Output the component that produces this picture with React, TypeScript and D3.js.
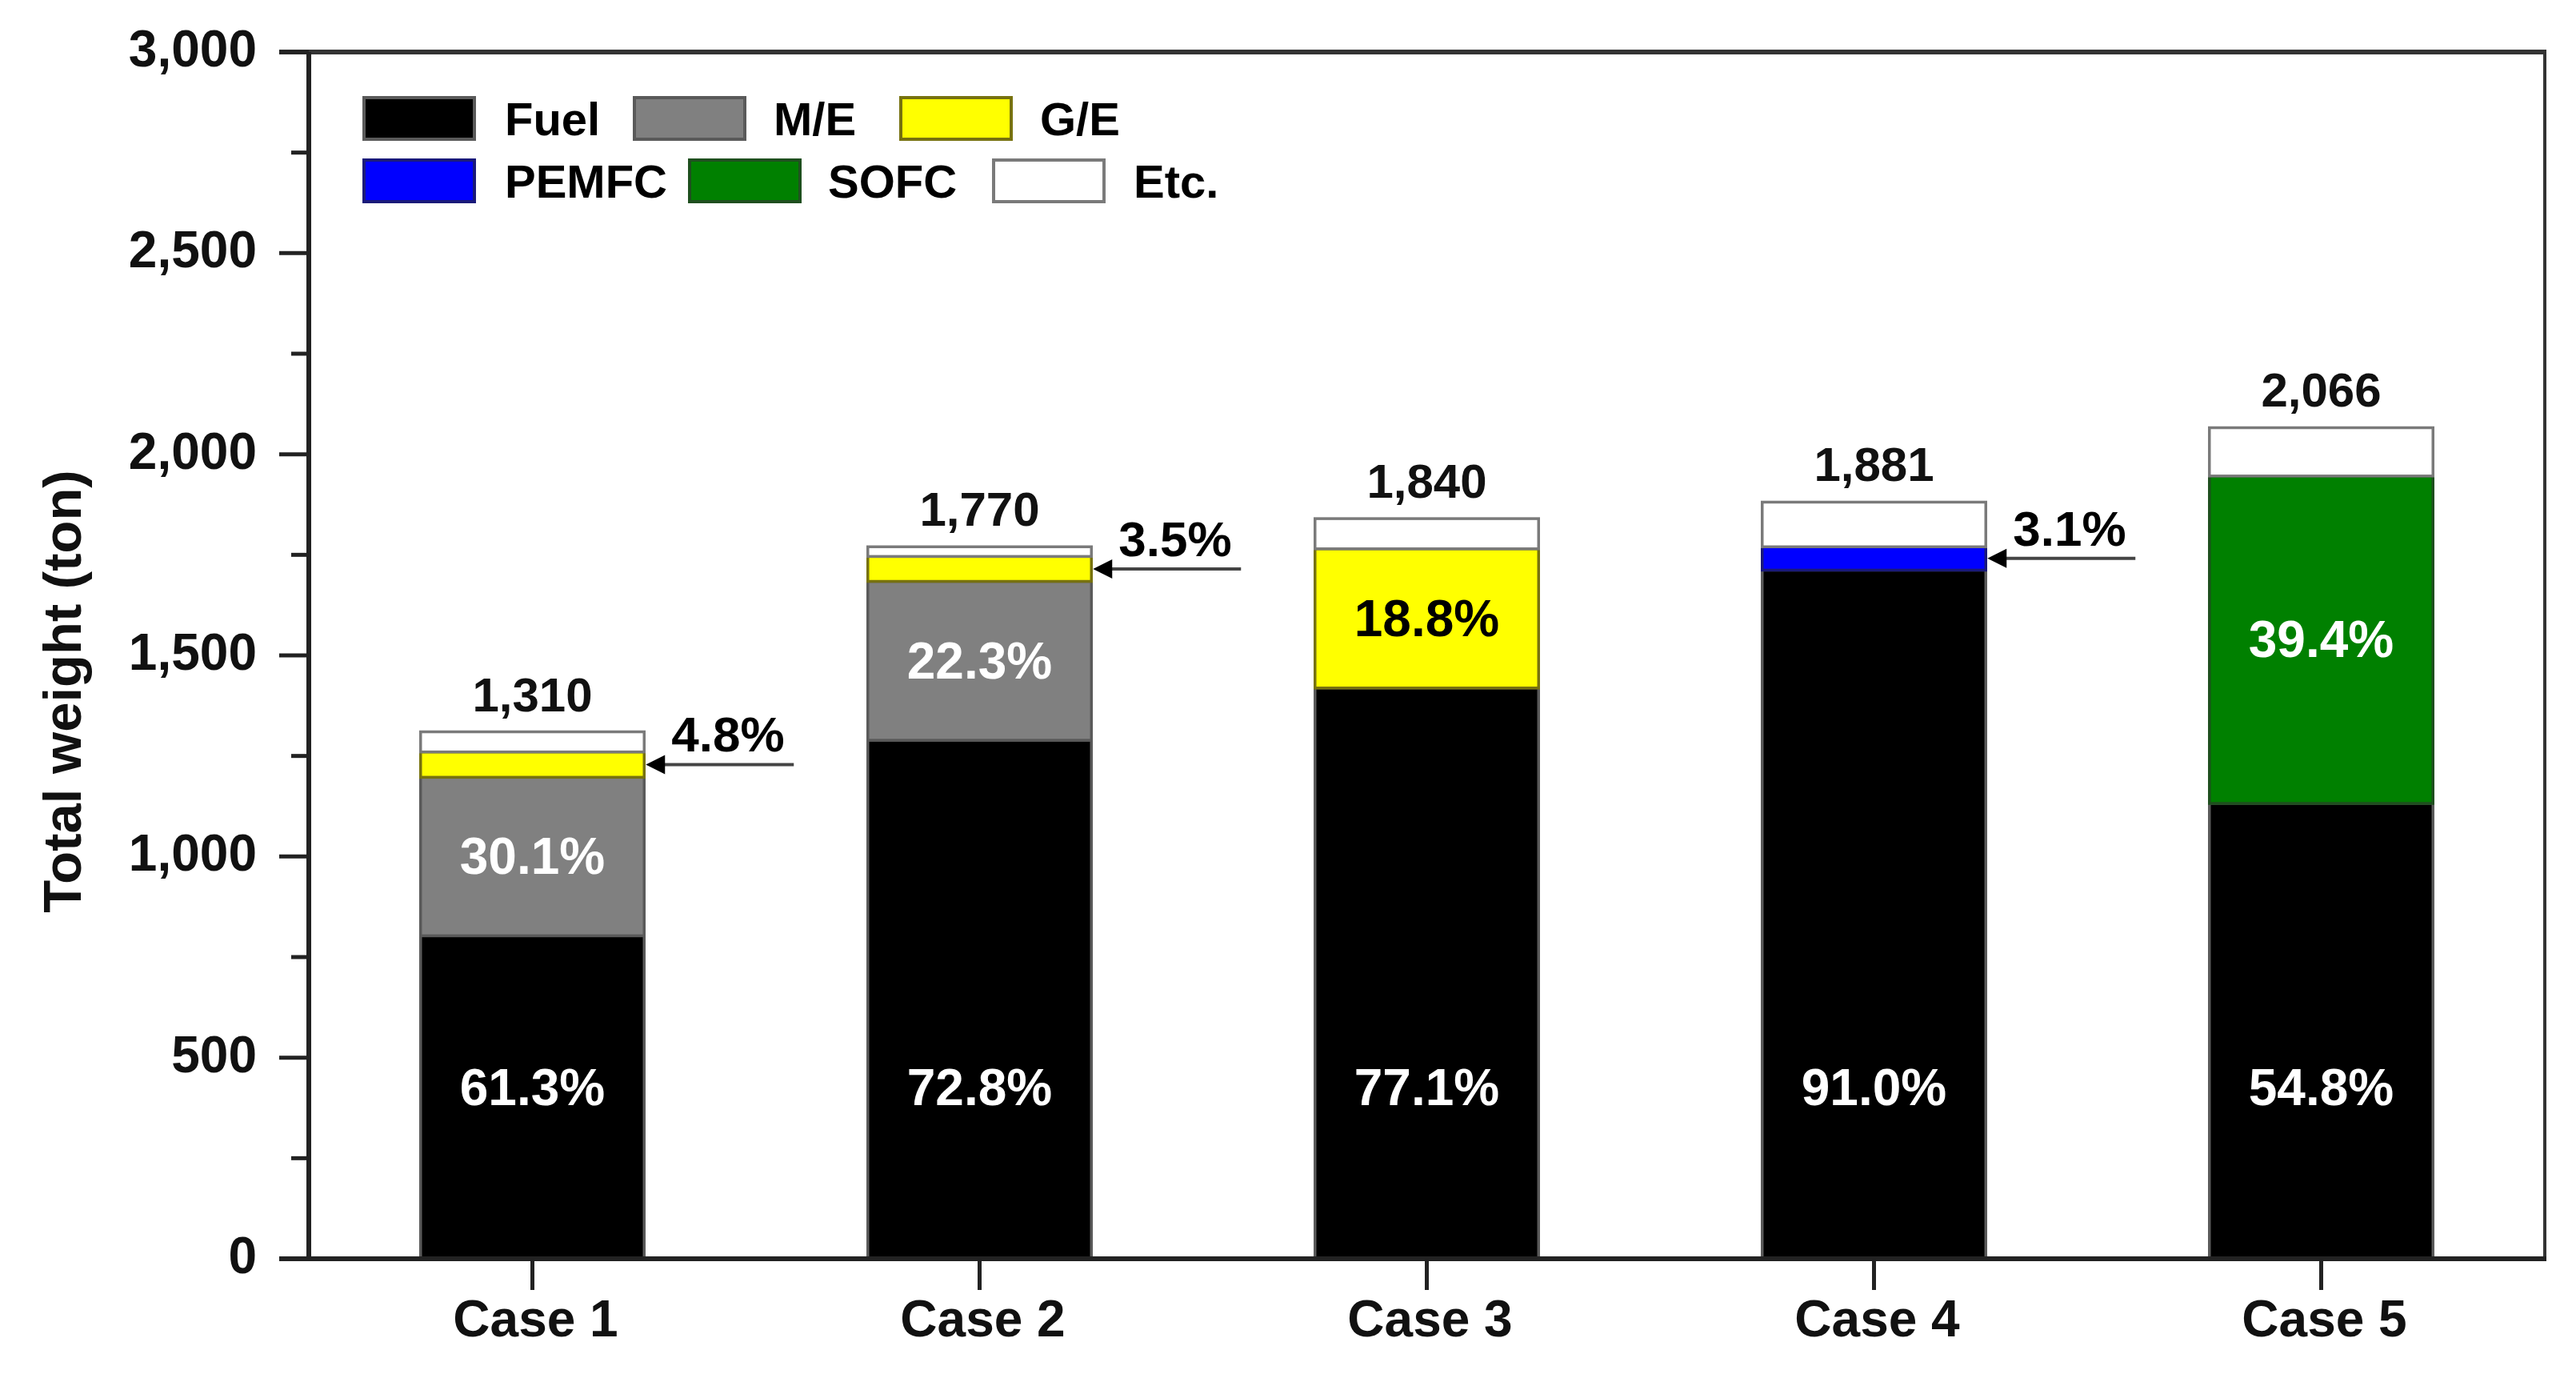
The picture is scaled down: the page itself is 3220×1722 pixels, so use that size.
import React from 'react';
import * as d3 from 'd3';

const cases = ['Case 1', 'Case 2', 'Case 3', 'Case 4', 'Case 5'];
const seriesKeys = ['Fuel', 'M/E', 'G/E', 'PEMFC', 'SOFC', 'Etc.'];

// weights in ton (share x total)
const fuel = [803, 1289, 1419, 1712, 1132];
const mainEngine = [394, 395, 0, 0, 0];
const genEngine = [63, 62, 346, 0, 0];
const pemfc = [0, 0, 0, 58, 0];
const sofc = [0, 0, 0, 0, 814];
const etc = [50, 24, 75, 111, 120];
const totals = [1310, 1770, 1840, 1881, 2066];

// percentage labels: [case index, series, text, placement]
const pctLabels: [number, string, string, 'in' | 'arrow'][] = [
  [0, 'Fuel', '61.3%', 'in'],
  [1, 'Fuel', '72.8%', 'in'],
  [2, 'Fuel', '77.1%', 'in'],
  [3, 'Fuel', '91.0%', 'in'],
  [4, 'Fuel', '54.8%', 'in'],
  [0, 'M/E', '30.1%', 'in'],
  [1, 'M/E', '22.3%', 'in'],
  [0, 'G/E', '4.8%', 'arrow'],
  [1, 'G/E', '3.5%', 'arrow'],
  [2, 'G/E', '18.8%', 'in'],
  [3, 'PEMFC', '3.1%', 'arrow'],
  [4, 'SOFC', '39.4%', 'in'],
];
const fuelLabelLevel = 425;

const fills: Record<string, string> = {
  Fuel: '#000000',
  'M/E': '#808080',
  'G/E': '#ffff00',
  PEMFC: '#0000ff',
  SOFC: '#008000',
  'Etc.': '#ffffff',
};
const strokes: Record<string, string> = {
  Fuel: '#5a5a5a',
  'M/E': '#5a5a5a',
  'G/E': '#77720f',
  PEMFC: '#1a1a7a',
  SOFC: '#1f4f1f',
  'Etc.': '#7a7a7a',
};

// legend layout: [key, swatch x, text x, row]
const legendLayout: [string, number, number, number][] = [
  ['Fuel', 455, 631, 0],
  ['M/E', 793, 967, 0],
  ['G/E', 1126, 1300, 0],
  ['PEMFC', 455, 631, 1],
  ['SOFC', 862, 1035, 1],
  ['Etc.', 1242, 1417, 1],
];

const W = 3220;
const H = 1722;
const left = 386;
const right = 3181;
const top = 65;
const bottom = 1573;
const font = '"Liberation Sans", Arial, sans-serif';

export default function App() {
  const x = d3.scaleBand<string>().domain(cases).range([left, right]).paddingInner(0.5).paddingOuter(0.25);
  const y = d3.scaleLinear().domain([0, 3000]).range([bottom, top]);
  const fmt = d3.format(',');

  const rows = cases.map((c, i) => ({
    case: c,
    Fuel: fuel[i],
    'M/E': mainEngine[i],
    'G/E': genEngine[i],
    PEMFC: pemfc[i],
    SOFC: sofc[i],
    'Etc.': etc[i],
  }));
  const stacked = d3.stack<any>().keys(seriesKeys)(rows);
  const seg = (key: string, i: number) => stacked[seriesKeys.indexOf(key)][i];

  const majorTicks = y.ticks(6);
  const minorTicks = d3.range(250, 3000, 500);
  const bw = x.bandwidth();

  return (
    <svg width={W} height={H} style={{ position: 'absolute', left: 0, top: 0, background: '#fff' }} fontFamily={font}>
      <rect x={0} y={0} width={W} height={H} fill="#fff" />

      {/* bars */}
      {stacked.map((layer) => (
        <g key={layer.key}>
          {layer.map((d, i) =>
            d[1] - d[0] > 0 ? (
              <rect
                key={i}
                x={x(cases[i])!}
                y={y(d[1])}
                width={bw}
                height={y(d[0]) - y(d[1])}
                fill={fills[layer.key]}
                stroke={strokes[layer.key]}
                strokeWidth={3.5}
              />
            ) : null
          )}
        </g>
      ))}

      {/* totals */}
      {totals.map((t, i) => (
        <text
          key={i}
          x={x(cases[i])! + bw / 2}
          y={y(t) - 26}
          textAnchor="middle"
          fontSize={60}
          fontWeight="bold"
          fill="#111"
        >
          {fmt(t)}
        </text>
      ))}

      {/* percentage labels */}
      {pctLabels.map(([ci, key, txt, mode], k) => {
        const d = seg(key, ci);
        const mid = key === 'Fuel' ? y(fuelLabelLevel) : y((d[0] + d[1]) / 2);
        const bx = x(cases[ci])!;
        if (mode === 'in') {
          return (
            <text
              key={k}
              x={bx + bw / 2}
              y={mid + 22}
              textAnchor="middle"
              fontSize={64}
              fontWeight="bold"
              fill={key === 'G/E' ? '#000' : '#fff'}
            >
              {txt}
            </text>
          );
        }
        const rx = bx + bw;
        return (
          <g key={k}>
            <line x1={rx + 187} x2={rx + 20} y1={mid} y2={mid} stroke="#444" strokeWidth={4} />
            <path d={`M${rx + 2},${mid} L${rx + 26},${mid - 12} L${rx + 26},${mid + 12} Z`} fill="#000" />
            <text x={rx + 34} y={mid - 16} fontSize={62} fontWeight="bold" fill="#000">
              {txt}
            </text>
          </g>
        );
      })}

      {/* frame */}
      <line x1={right} x2={right} y1={top} y2={bottom} stroke="#333" strokeWidth={4} />
      <line x1={left - 37} x2={right + 2} y1={top} y2={top} stroke="#333" strokeWidth={6} />
      <line x1={left} x2={left} y1={top} y2={bottom} stroke="#222" strokeWidth={6} />
      <line x1={left - 37} x2={right + 2} y1={bottom} y2={bottom} stroke="#222" strokeWidth={6} />

      {/* y axis ticks */}
      {majorTicks.map((t) => (
        <g key={t}>
          <line x1={left - 37} x2={left} y1={y(t)} y2={y(t)} stroke="#222" strokeWidth={5} />
          <text x={321} y={y(t) + 18} textAnchor="end" fontSize={64} fontWeight="bold" fill="#111">
            {fmt(t)}
          </text>
        </g>
      ))}
      {minorTicks.map((t) => (
        <line key={t} x1={left - 22} x2={left} y1={y(t)} y2={y(t)} stroke="#222" strokeWidth={5} />
      ))}

      {/* x axis ticks */}
      {cases.map((c) => (
        <g key={c}>
          <line x1={x(c)! + bw / 2} x2={x(c)! + bw / 2} y1={bottom} y2={bottom + 39} stroke="#222" strokeWidth={5} />
          <text x={x(c)! + bw / 2 + 4} y={1670} textAnchor="middle" fontSize={64} fontWeight="bold" fill="#111">
            {c}
          </text>
        </g>
      ))}

      {/* y title */}
      <text
        transform={`translate(101,${(top + bottom) / 2 + 45}) rotate(-90)`}
        textAnchor="middle"
        fontSize={67}
        fontWeight="bold"
        fill="#111"
      >
        Total weight (ton)
      </text>

      {/* legend */}
      {legendLayout.map(([key, sx, tx, row]) => {
        const cy = 148 + row * 78;
        return (
          <g key={key}>
            <rect x={sx} y={cy - 26} width={138} height={52} fill={fills[key]} stroke={strokes[key]} strokeWidth={4} />
            <text x={tx} y={cy + 21} fontSize={58} fontWeight="bold" fill="#000">
              {key}
            </text>
          </g>
        );
      })}
    </svg>
  );
}
